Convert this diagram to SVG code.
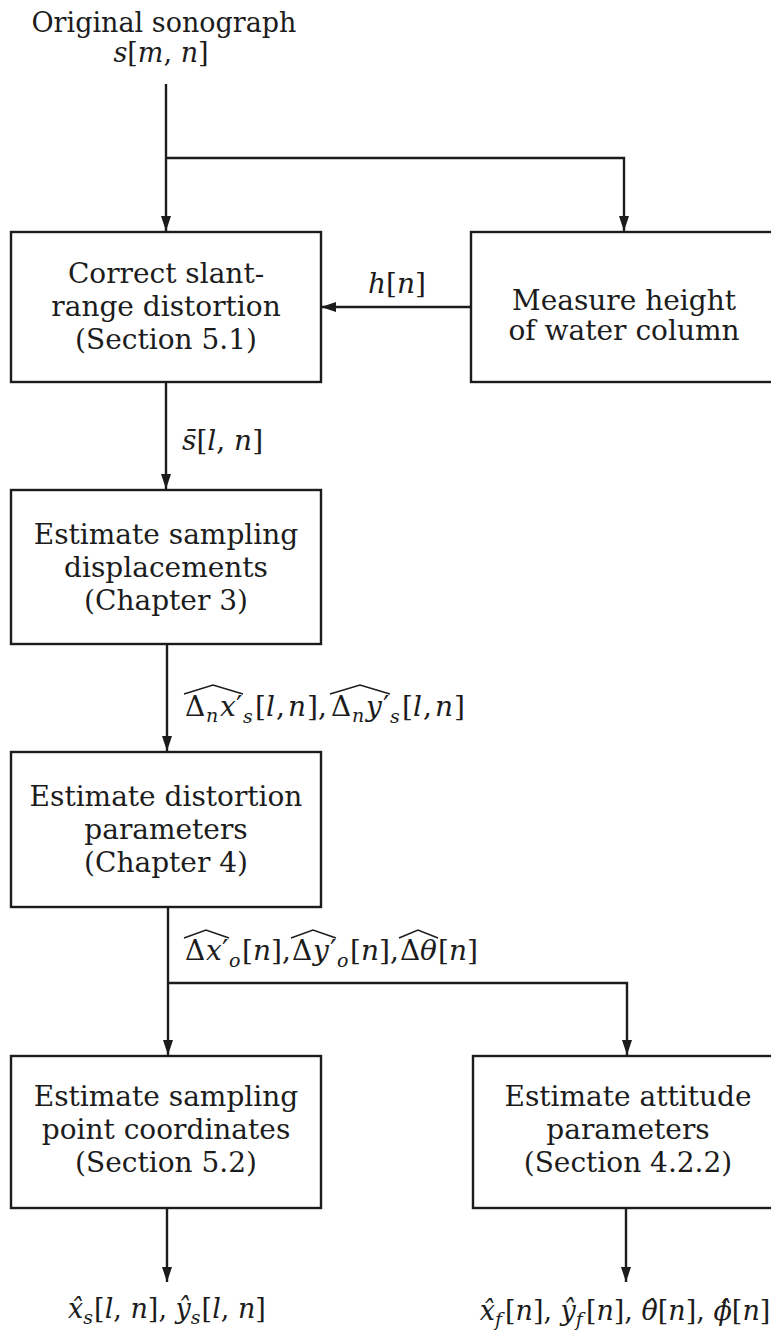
<svg xmlns="http://www.w3.org/2000/svg" width="771" height="1334" viewBox="0 0 771 1334">
<style>
.bg{fill:#ffffff}
.box{fill:#ffffff;stroke:#1c1c1c;stroke-width:2.4}
.ln{fill:none;stroke:#1c1c1c;stroke-width:2.4}
.hat{fill:none;stroke:#1c1c1c;stroke-width:1.5;stroke-linejoin:miter}
.t{font-family:"DejaVu Serif","Liberation Serif",serif;font-size:28px;fill:#1c1c1c;text-anchor:middle}
.m{font-family:"DejaVu Serif","Liberation Serif",serif;font-size:28px;fill:#1c1c1c}
.mc{font-family:"DejaVu Serif","Liberation Serif",serif;font-size:27px;fill:#1c1c1c;text-anchor:middle}
.i{font-style:italic}
.s{font-size:19px}
</style>
<defs>
<marker id="ah" viewBox="0 0 15 10" refX="15" refY="5" markerWidth="15" markerHeight="10" markerUnits="userSpaceOnUse" orient="auto">
<path d="M0,0 L15,5 L0,10 z" fill="#1c1c1c"/>
</marker>
</defs>
<rect class="bg" x="0" y="0" width="771" height="1334"/>

<g id="connectors">
<path class="ln" d="M166 84 V231" marker-end="url(#ah)"/>
<path class="ln" d="M166 158 H624 V231" marker-end="url(#ah)"/>
<path class="ln" d="M471 307 H321" marker-end="url(#ah)"/>
<path class="ln" d="M166 382 V489" marker-end="url(#ah)"/>
<path class="ln" d="M167 644 V751" marker-end="url(#ah)"/>
<path class="ln" d="M168 907 V1055" marker-end="url(#ah)"/>
<path class="ln" d="M168 983 H627 V1055" marker-end="url(#ah)"/>
<path class="ln" d="M167 1208 V1282" marker-end="url(#ah)"/>
<path class="ln" d="M626 1208 V1282" marker-end="url(#ah)"/>
</g>

<g id="edge-labels">
<text class="m" x="368" y="293"><tspan class="i">h</tspan>[<tspan class="i">n</tspan>]</text>
<text class="m" x="182" y="450"><tspan class="i">s̄</tspan>[<tspan class="i">l</tspan>, <tspan class="i">n</tspan>]</text>

<g id="label-displacements">
<text class="m">
<tspan x="185" y="716">Δ</tspan><tspan class="s i" x="206" y="722">n</tspan><tspan class="i" x="220" y="716">x</tspan><tspan x="236" y="716">′</tspan><tspan class="s i" x="243" y="723">s</tspan><tspan x="255" y="716">[</tspan><tspan class="i" x="266" y="716">l</tspan><tspan x="276" y="716">,</tspan><tspan class="i" x="288" y="716">n</tspan><tspan x="307" y="716">]</tspan><tspan x="318" y="716">,</tspan>
<tspan x="331" y="716">Δ</tspan><tspan class="s i" x="352" y="722">n</tspan><tspan class="i" x="366" y="716">y</tspan><tspan x="383" y="716">′</tspan><tspan class="s i" x="390" y="723">s</tspan><tspan x="402" y="716">[</tspan><tspan class="i" x="413" y="716">l</tspan><tspan x="423" y="716">,</tspan><tspan class="i" x="435" y="716">n</tspan><tspan x="454" y="716">]</tspan>
</text>
<path class="hat" d="M184 694 L213 685 L243 694"/>
<path class="hat" d="M330 694 L360 685 L390 694"/>
</g>

<g id="label-distortion">
<text class="m">
<tspan x="185" y="960">Δ</tspan><tspan class="i" x="206" y="960">x</tspan><tspan x="222" y="960">′</tspan><tspan class="s i" x="229" y="967">o</tspan><tspan x="242" y="960">[</tspan><tspan class="i" x="253" y="960">n</tspan><tspan x="271" y="960">]</tspan><tspan x="282" y="960">,</tspan>
<tspan x="292" y="960">Δ</tspan><tspan class="i" x="313" y="960">y</tspan><tspan x="330" y="960">′</tspan><tspan class="s i" x="337" y="967">o</tspan><tspan x="350" y="960">[</tspan><tspan class="i" x="361" y="960">n</tspan><tspan x="379" y="960">]</tspan><tspan x="390" y="960">,</tspan>
<tspan x="400" y="960">Δ</tspan><tspan class="i" x="420" y="960">θ</tspan><tspan x="438" y="960">[</tspan><tspan class="i" x="449" y="960">n</tspan><tspan x="467" y="960">]</tspan>
</text>
<path class="hat" d="M184 938 L206 930 L229 938"/>
<path class="hat" d="M291 938 L313 930 L336 938"/>
<path class="hat" d="M399 938 L418 930 L438 938"/>
</g>
</g>

<g id="input">
<text class="t" x="164" y="32" style="font-size:27px">Original sonograph</text>
<text class="mc" x="161" y="62"><tspan class="i">s</tspan>[<tspan class="i">m</tspan>, <tspan class="i">n</tspan>]</text>
</g>

<g id="node-slant">
<rect class="box" x="11" y="232" width="310" height="150"/>
<text class="t" x="166" y="283">Correct slant-</text>
<text class="t" x="166" y="316">range distortion</text>
<text class="t" x="166" y="349">(Section 5.1)</text>
</g>

<g id="node-height">
<rect class="box" x="471" y="232" width="310" height="150"/>
<text class="t" x="624" y="310">Measure height</text>
<text class="t" x="624" y="340">of water column</text>
</g>

<g id="node-displacements">
<rect class="box" x="11" y="490" width="310" height="154"/>
<text class="t" x="166" y="544">Estimate sampling</text>
<text class="t" x="166" y="577">displacements</text>
<text class="t" x="166" y="610">(Chapter 3)</text>
</g>

<g id="node-distortion">
<rect class="box" x="11" y="752" width="310" height="155"/>
<text class="t" x="166" y="806">Estimate distortion</text>
<text class="t" x="166" y="839">parameters</text>
<text class="t" x="166" y="872">(Chapter 4)</text>
</g>

<g id="node-coordinates">
<rect class="box" x="11" y="1056" width="310" height="152"/>
<text class="t" x="166" y="1106">Estimate sampling</text>
<text class="t" x="166" y="1139">point coordinates</text>
<text class="t" x="166" y="1172">(Section 5.2)</text>
</g>

<g id="node-attitude">
<rect class="box" x="473" y="1056" width="310" height="152"/>
<text class="t" x="628" y="1106">Estimate attitude</text>
<text class="t" x="628" y="1139">parameters</text>
<text class="t" x="628" y="1172">(Section 4.2.2)</text>
</g>

<g id="output-coordinates">
<text class="mc" x="167" y="1318"><tspan class="i">x̂</tspan><tspan class="s i" dy="6">s</tspan><tspan dy="-6" dx="1">[</tspan><tspan class="i">l</tspan>, <tspan class="i">n</tspan>], <tspan class="i">ŷ</tspan><tspan class="s i" dy="6">s</tspan><tspan dy="-6" dx="1">[</tspan><tspan class="i">l</tspan>, <tspan class="i">n</tspan>]</text>
</g>

<g id="output-attitude">
<text class="mc" x="625" y="1320"><tspan class="i">x̂</tspan><tspan class="s i" dy="6">f</tspan><tspan dy="-6" dx="3">[</tspan><tspan class="i">n</tspan>], <tspan class="i">ŷ</tspan><tspan class="s i" dy="6">f</tspan><tspan dy="-6" dx="3">[</tspan><tspan class="i">n</tspan>], <tspan class="i">θ̂</tspan>[<tspan class="i">n</tspan>], <tspan class="i">ϕ̂</tspan>[<tspan class="i">n</tspan>]</text>
</g>
</svg>
